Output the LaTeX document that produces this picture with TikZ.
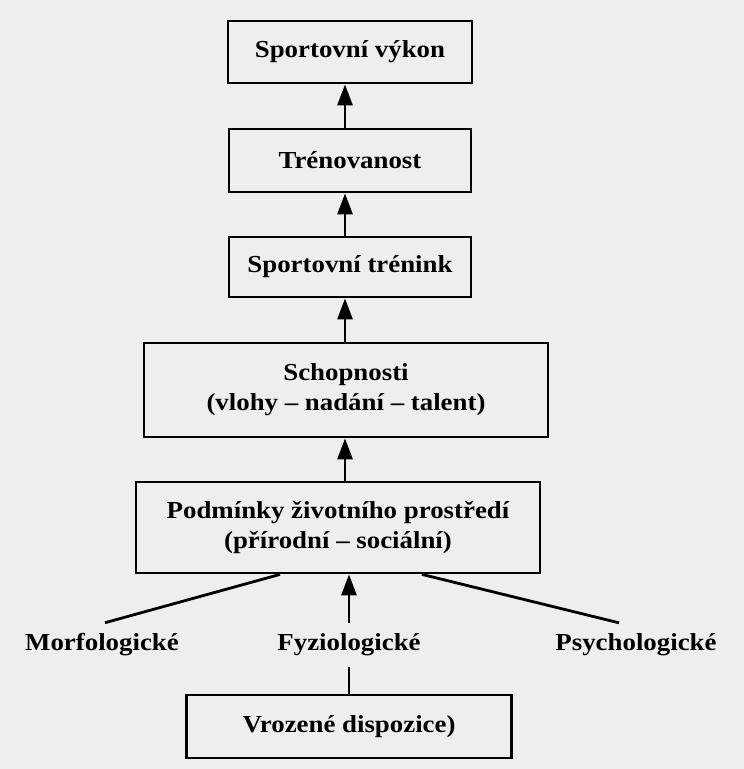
\documentclass[tikz,border=0pt]{standalone}
\usepackage{fontspec}
\setmainfont{Liberation Serif}[FakeStretch=1.1]
\usetikzlibrary{arrows.meta}
\definecolor{paper}{RGB}{238,238,236}
\tikzset{
    box/.style={draw, line width=2.8bp, align=center, inner sep=0pt},
    lbl/.style={inner sep=0pt, outer sep=11bp},
    up/.style={line width=2.8bp, -{Triangle[length=21bp,width=15bp]}},
    link/.style={line width=2.8bp}
}
\begin{document}
\begin{tikzpicture}[x=1bp,y=-1bp,
    font=\fontsize{24.5}{30}\selectfont\bfseries]
    \fill[paper] (0,0) rectangle (744,769);
    \useasboundingbox (0,0) rectangle (744,769);
    % levels of the chain
    \node[box, minimum width=244bp, minimum height=62bp] (vykon) at (350,52) {Sportovní výkon};
    \node[box, minimum width=242bp, minimum height=63bp] (trenovanost) at (350,160.5) {Trénovanost};
    \node[box, minimum width=242bp, minimum height=60bp] (trenink) at (350,267) {Sportovní trénink};
    \node[box, minimum width=404bp, minimum height=94bp] (schopnosti) at (346,390)
        {Schopnosti\\(vlohy -- nadání -- talent)};
    \node[box, minimum width=404bp, minimum height=91bp] (podminky) at (338,527.5)
        {Podmínky životního prostředí\\(přírodní -- sociální)};
    \node[box, minimum width=325bp, minimum height=63bp] (vrozene) at (349,726.5) {Vrozené dispozice)};
    % components
    \node[lbl] (morf) at (102,645) {Morfologické};
    \node[lbl] (fyz) at (349,645) {Fyziologické};
    \node[lbl] (psych) at (636,645) {Psychologické};
    % connectors
    \draw[up] (trenovanost.north -| 345,0) -- (vykon.south -| 345,0);
    \draw[up] (trenink.north -| 345,0) -- (trenovanost.south -| 345,0);
    \draw[up] (schopnosti.north -| 345,0) -- (trenink.south -| 345,0);
    \draw[up] (podminky.north -| 345,0) -- (schopnosti.south -| 345,0);
    \draw[up] (fyz.north) -- (fyz.north |- podminky.south);
    \draw[link] ([xshift=3bp]morf.north) -- ([xshift=-58bp]podminky.south);
    \draw[link] ([xshift=-17bp]psych.north) -- ([xshift=84bp]podminky.south);
    \draw[link] (vrozene.north) -- (vrozene.north |- fyz.south);
\end{tikzpicture}
\end{document}
